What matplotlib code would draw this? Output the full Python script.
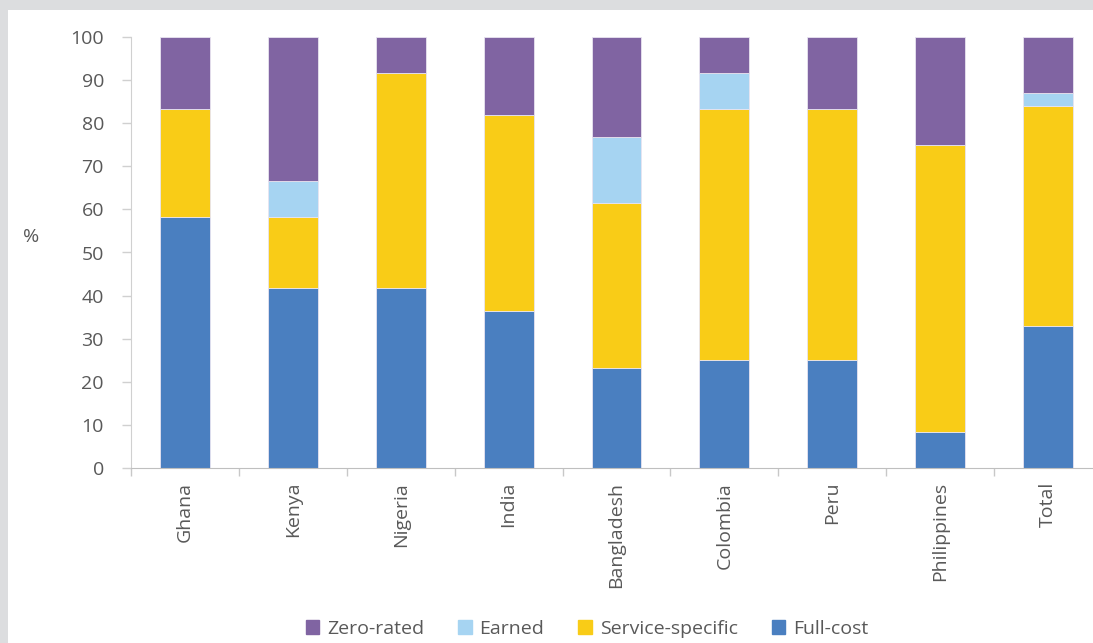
import matplotlib.pyplot as plt
import matplotlib.patches as mpatches
import numpy as np

plt.rcParams['font.family'] = ['Open Sans', 'DejaVu Sans']

countries = ['Ghana', 'Kenya', 'Nigeria', 'India', 'Bangladesh', 'Colombia', 'Peru', 'Philippines', 'Total']
full_cost = [58.3, 41.7, 41.7, 36.4, 23.1, 25.0, 25.0, 8.3, 33.0]
service_specific = [25.0, 16.6, 50.0, 45.4, 38.4, 58.3, 58.3, 66.7, 51.0]
earned = [0.0, 8.4, 0.0, 0.0, 15.4, 8.4, 0.0, 0.0, 3.0]
zero_rated = [16.7, 33.3, 8.3, 18.2, 23.1, 8.3, 16.7, 25.0, 13.0]

col_zero = '#8064A2'
col_earned = '#A6D4F2'
col_service = '#F9CC17'
col_full = '#4A7FC0'

fig = plt.figure(figsize=(10.93, 6.43), dpi=100)
fig.patch.set_facecolor('#DCDDDF')
# white panel inside the grey frame
fig.patches.append(mpatches.Rectangle((8 / 1093, 0), 1, 1 - 10 / 643,
                                      transform=fig.transFigure, facecolor='white',
                                      edgecolor='none', zorder=-10))

ax = fig.add_axes([131 / 1093, 1 - 468 / 643, (1102 - 131) / 1093, (468 - 37) / 643])
ax.set_facecolor('none')

x = np.arange(len(countries))
w = 0.463
b1 = np.array(full_cost)
b2 = b1 + np.array(service_specific)
b3 = b2 + np.array(earned)

ec = dict(edgecolor='#E8E4F0', linewidth=0.6)
ax.bar(x, full_cost, w, color=col_full, label='Full-cost', **ec)
ax.bar(x, service_specific, w, bottom=b1, color=col_service, label='Service-specific', **ec)
ax.bar(x, earned, w, bottom=b2, color=col_earned, label='Earned', **ec)
ax.bar(x, zero_rated, w, bottom=b3, color=col_zero, label='Zero-rated', **ec)

ax.set_xlim(-0.5, len(countries) - 0.5)
ax.set_ylim(0, 100)
ax.set_yticks(range(0, 101, 10))
ax.tick_params(axis='y', length=6.5, width=1, color='#D0D0D0', labelsize=14,
               labelcolor='#595959', pad=13)

ax.set_xticks(x)
ax.set_xticklabels(countries, rotation=90, fontsize=14, color='#595959')
ax.tick_params(axis='x', length=0, pad=10)
ax.set_xticks(np.arange(-0.5, len(countries), 1), minor=True)
ax.tick_params(axis='x', which='minor', length=6, width=1, color='#C8C8C8')

for s in ['top', 'right']:
    ax.spines[s].set_visible(False)
ax.spines['left'].set_color('#D0D0D0')
ax.spines['bottom'].set_color('#BFBFBF')

fig.text(31 / 1093, 1 - 237 / 643, '%', fontsize=14, color='#595959', ha='center', va='center')

handles = [mpatches.Patch(color=col_zero, label='Zero-rated'),
           mpatches.Patch(color=col_earned, label='Earned'),
           mpatches.Patch(color=col_service, label='Service-specific'),
           mpatches.Patch(color=col_full, label='Full-cost')]
leg = fig.legend(handles=handles, loc='center', bbox_to_anchor=(587 / 1093, 1 - 629 / 643),
                 ncol=4, frameon=False, fontsize=14, handlelength=0.7, handleheight=0.7,
                 columnspacing=1.75, handletextpad=0.4)
for t in leg.get_texts():
    t.set_color('#595959')

fig.savefig('out.png', dpi=100, facecolor=fig.get_facecolor())
